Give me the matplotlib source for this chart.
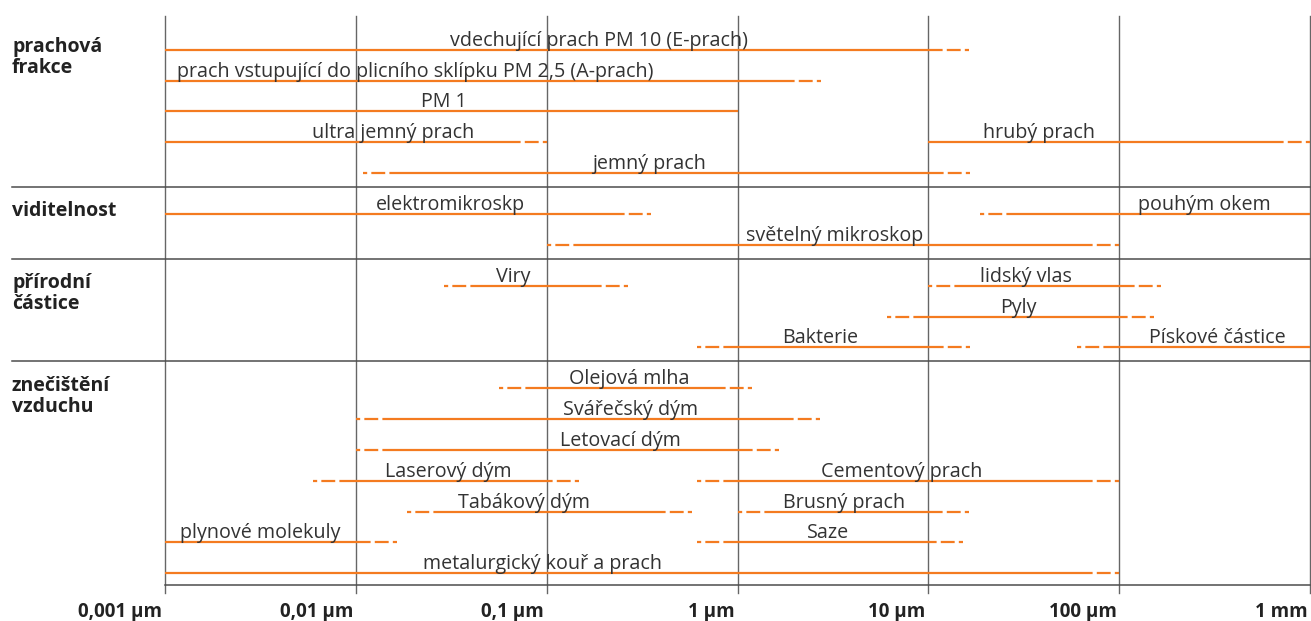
import numpy as np
import matplotlib
matplotlib.use("Agg")
import matplotlib.pyplot as plt

plt.rcParams['font.family'] = ['Open Sans', 'DejaVu Sans']
plt.rcParams['lines.scale_dashes'] = False

# skupiny řádků (popisky vlevo) a počet řádků v každé
groups = ["prachová\nfrakce", "viditelnost", "přírodní\nčástice", "znečištění\nvzduchu"]
group_sizes = [5, 2, 3, 7]

# rozsahy velikostí částic v µm
names = ["vdechující prach PM 10 (E-prach)",
         "prach vstupující do plicního sklípku PM 2,5 (A-prach)",
         "PM 1", "ultra jemný prach", "hrubý prach", "jemný prach",
         "elektromikroskp", "pouhým okem", "světelný mikroskop",
         "Viry", "lidský vlas", "Pyly", "Bakterie", "Pískové částice",
         "Olejová mlha", "Svářečský dým", "Letovací dým", "Laserový dým",
         "Cementový prach", "Tabákový dým", "Brusný prach",
         "plynové molekuly", "Saze", "metalurgický kouř a prach"]
rows = [0, 1, 2, 3, 3, 4,
        5, 5, 6,
        7, 7, 8, 9, 9,
        10, 11, 12, 13, 13, 14, 14, 15, 15, 16]
size_from = [0.001, 0.001, 0.001, 0.001, 10, 0.0109,
             0.001, 18.7, 0.1,
             0.029, 10, 6.1, 0.61, 60,
             0.056, 0.01, 0.01, 0.006, 0.61, 0.0186, 1.0, 0.001, 0.61, 0.001]
size_to = [16.4, 2.74, 1.0, 0.1, 1000, 16.6,
           0.354, 1000, 100,
           0.266, 166, 152, 16.5, 1000,
           1.19, 2.71, 1.65, 0.147, 100, 0.578, 16.4, 0.0165, 15.2, 100]
tail_left = [0, 0, 0, 0, 0, 1,
             0, 1, 1,
             1, 1, 1, 1, 1,
             1, 1, 1, 1, 1, 1, 1, 0, 1, 0]
tail_right = [1, 1, 0, 1, 1, 1,
              1, 0, 1,
              1, 1, 1, 1, 0,
              1, 1, 1, 1, 1, 1, 1, 1, 1, 1]
label_at = [0.188, 0.0205, 0.0289, 0.0156, 38.1, 0.346,
            0.0314, 280, 3.24,
            0.0667, 32.6, 29.6, 2.71, 328,
            0.272, 0.275, 0.245, 0.0307, 7.26, 0.076, 3.6, 0.00316, 2.98, 0.0953]

tick_vals = [0.001, 0.01, 0.1, 1, 10, 100, 1000]
tick_text = ["0,001 µm", "0,01 µm", "0,1 µm", "1 µm", "10 µm", "100 µm", "1 mm"]

ORANGE = '#f47b20'
GRID = '#666666'
SEP = '#4d4d4d'
TEXT = '#333333'
GAP = 0.33    # mezera mezi skupinami (v řádcích)
TAIL = 0.16   # délka čárkovaného konce v dekádách
TAIL_DASH = (3, 3, 10, 3, 80, 0)

section = np.repeat(np.arange(len(groups)), group_sizes)


def ypos(r):
    return r + GAP * section[r]


fig = plt.figure(figsize=(13.11, 6.21), dpi=100)
ax = fig.add_axes([165 / 1311, 28 / 621, 1145 / 1311, 577 / 621])
ax.set_xscale('log')
ax.set_xlim(tick_vals[0], tick_vals[-1])
ax.set_ylim(17.63, -1.1)
ax.axis('off')

for v in tick_vals:
    ax.axvline(v, color=GRID, lw=1.0, clip_on=False, zorder=1)

# oddělovače skupin
last_rows = np.cumsum(group_sizes) - 1
for r in last_rows[:-1]:
    ax.plot([-0.134, 1.0], [ypos(r) + 0.45] * 2, color=SEP, lw=1.1,
            transform=ax.get_yaxis_transform(), clip_on=False, zorder=1)
ax.plot([0, 1.0], [ypos(last_rows[-1]) + 0.37] * 2, color=SEP, lw=1.1,
        transform=ax.get_yaxis_transform(), clip_on=False, zorder=1)

first_rows = np.cumsum(group_sizes) - np.array(group_sizes)
for g, r in zip(groups, first_rows):
    for k, line in enumerate(g.split("\n")):
        ax.annotate(line, xy=(12 / 1311, ypos(r)), xycoords=('figure fraction', 'data'),
                    xytext=(0, -1.5 - k * 15.3), textcoords='offset points',
                    ha='left', va='baseline', fontsize=14, fontweight='bold', color='#222222')

for i, name in enumerate(names):
    y = ypos(rows[i])
    a, b = size_from[i], size_to[i]
    a_in = a * 10 ** TAIL if tail_left[i] else a
    b_in = b / 10 ** TAIL if tail_right[i] else b
    ax.plot([a_in, b_in], [y, y], color=ORANGE, lw=1.6, solid_capstyle='butt',
            clip_on=False, zorder=3)
    if tail_left[i]:
        ax.plot([a, a_in], [y, y], color=ORANGE, lw=1.6, dashes=TAIL_DASH,
                dash_capstyle='butt', clip_on=False, zorder=3)
    if tail_right[i]:
        ax.plot([b, b_in], [y, y], color=ORANGE, lw=1.6, dashes=TAIL_DASH,
                dash_capstyle='butt', clip_on=False, zorder=3)
    ax.annotate(name, xy=(label_at[i], y), xytext=(0, 3.0), textcoords='offset points',
                ha='center', va='baseline', fontsize=14.2, fontweight='normal', color=TEXT,
                zorder=4)

for v, t in zip(tick_vals, tick_text):
    ax.annotate(t, xy=(v, 0), xycoords=('data', 'axes fraction'),
                xytext=(-2, -6.5), textcoords='offset points',
                ha='right', va='top', fontsize=13.5, fontweight='bold', color='#222222')

fig.savefig("out.png", dpi=100)
